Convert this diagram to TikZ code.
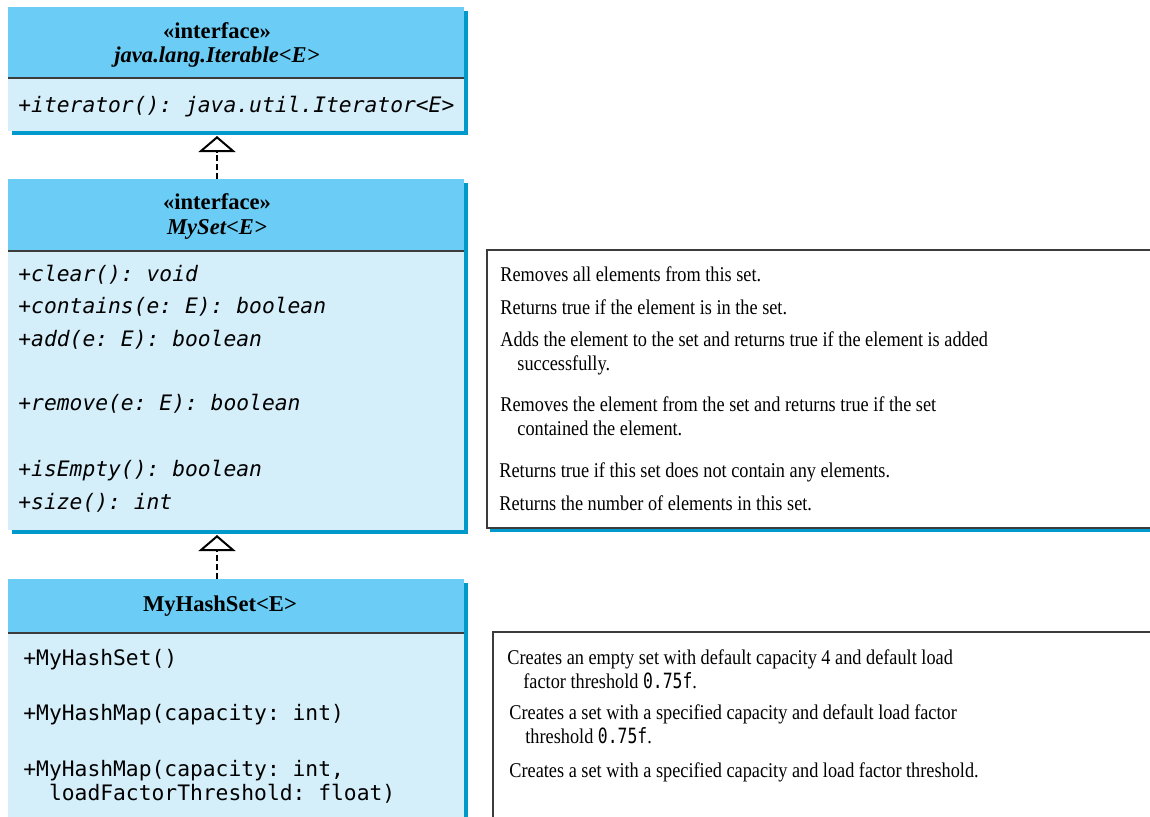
\documentclass[tikz,border=0pt]{standalone}
\usepackage{fontspec}
\setmainfont{Liberation Serif}
\setmonofont{DejaVu Sans Mono}
\newfontfamily\descfont{Liberation Serif}[FakeStretch=0.87]
\newfontfamily\desctt{DejaVu Sans Mono}[FakeStretch=0.78]
\usetikzlibrary{positioning,shadows,arrows.meta}

\definecolor{headblue}{HTML}{6BCDF5}
\definecolor{bodyblue}{HTML}{D4EEFA}
\definecolor{edgeblue}{HTML}{0099CC}
\definecolor{rulegray}{HTML}{3C3C3C}

\newcommand{\jcode}[1]{{\desctt #1}}

\begin{document}
\begin{tikzpicture}[x=0.5pt, y=-0.5pt]
                \tikzstyle{classhead} = [rectangle, fill=headblue, minimum width=228pt, inner sep=0pt, outer sep=0pt, anchor=north west, drop shadow={shadow xshift=2pt, shadow yshift=-2pt, fill=edgeblue, opacity=1}]
                \tikzstyle{classbody} = [classhead, fill=bodyblue]
                \tikzstyle{descbox} = [rectangle, draw=rulegray, line width=0.6pt, fill=white, inner sep=0pt, outer sep=0pt, anchor=north west, drop shadow={shadow xshift=1.5pt, shadow yshift=-2pt, fill=edgeblue, opacity=1}]
                \tikzstyle{sepline} = [rulegray, line width=0.75pt]
                \tikzstyle{title} = [anchor=base, align=center, inner sep=0pt, font=\fontsize{11.3}{12.25}\selectfont\bfseries]
                \tikzstyle{method} = [anchor=base west, inner sep=0pt, font=\fontsize{10.65}{12}\selectfont\ttfamily\itshape]
                \tikzstyle{ctor} = [anchor=base west, inner sep=0pt, align=left, font=\fontsize{10.65}{12}\selectfont\ttfamily]
                \tikzstyle{desc} = [anchor=base west, inner sep=0pt, align=left, font=\fontsize{10.5}{12}\selectfont\descfont]
                \tikzstyle{realize} = [line width=1pt, dash pattern=on 3pt off 1.5pt, shorten >=2.5pt, -{Triangle[open, length=8pt, width=18.5pt]}]

                \clip (0,0) rectangle (1150,816);

                % class boxes
                \node (iterhead) [classhead, minimum height=35.5pt] at (8,7) {};
                \node (iterbody) [classbody, minimum height=26.5pt, below=0pt of iterhead] {};
                \node (sethead) [classhead, minimum height=36pt] at (8,179) {};
                \node (setbody) [classbody, minimum height=139.5pt, below=0pt of sethead] {};
                \node (hashhead) [classhead, minimum height=27pt] at (8,579) {};
                \node (hashbody) [classbody, minimum height=110pt, below=0pt of hashhead] {};
                \draw [sepline] (iterhead.south west) -- (iterhead.south east);
                \draw [sepline] (sethead.south west) -- (sethead.south east);
                \draw [sepline] (hashhead.south west) -- (hashhead.south east);

                % description boxes
                \node (setdesc) [descbox, minimum width=345pt, minimum height=139pt] at (487,250) {};
                \node (hashdesc) [descbox, minimum width=342pt, minimum height=120pt] at (493,632) {};

                % titles (base = last line)
                \node (itertitle) [title] at (217,62.5) {«interface»\\\textit{java.lang.Iterable<E>}};
                \node (settitle) [title] at (217,234) {«interface»\\\textit{MySet<E>}};
                \node (hashtitle) [title] at (220,611) {MyHashSet<E>};

                % methods
                \node (iterm) [method] at (18,112) {+iterator(): java.util.Iterator<E>};
                \node (clearm) [method] at (18,281) {+clear(): void};
                \node (containsm) [method] at (18,313) {+contains(e: E): boolean};
                \node (addm) [method] at (18,346) {+add(e: E): boolean};
                \node (removem) [method] at (18,410) {+remove(e: E): boolean};
                \node (emptym) [method] at (18,476) {+isEmpty(): boolean};
                \node (sizem) [method] at (18,509) {+size(): int};
                \node (ctorno) [ctor] at (23,665) {+MyHashSet()};
                \node (ctorcap) [ctor] at (23,720) {+MyHashMap(capacity: int)};
                \node (ctorfull) [ctor] at (23,800) {+MyHashMap(capacity: int,\\\ \ loadFactorThreshold: float)};

                % descriptions
                \node (cleard) [desc] at (500,281) {Removes all elements from this set.};
                \node (containsd) [desc] at (500,314) {Returns true if the element is in the set.};
                \node (addd) [desc] at (500,370) {Adds the element to the set and returns true if the element is added\\\hspace*{8.5pt}successfully.};
                \node (removed) [desc] at (500,435) {Removes the element from the set and returns true if the set\\\hspace*{8.5pt}contained the element.};
                \node (emptyd) [desc] at (499,477) {Returns true if this set does not contain any elements.};
                \node (sized) [desc] at (499,510) {Returns the number of elements in this set.};
                \node (ctornod) [desc] at (507,688) {Creates an empty set with default capacity 4 and default load\\\hspace*{8pt}factor threshold \jcode{0.75f}.};
                \node (ctorcapd) [desc] at (509,743) {Creates a set with a specified capacity and default load factor\\\hspace*{8pt}threshold \jcode{0.75f}.};
                \node (ctorfulld) [desc] at (509,777) {Creates a set with a specified capacity and load factor threshold.};

                % realization arrows
                \draw [realize] (sethead.north -| settitle) -- (iterbody.south -| settitle);
                \draw [realize] (hashhead.north -| settitle) -- (setbody.south -| settitle);
\end{tikzpicture}
\end{document}
